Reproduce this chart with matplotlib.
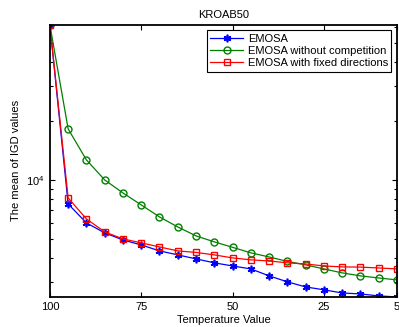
import numpy as np
import matplotlib
matplotlib.use('Agg')
import matplotlib.pyplot as plt
from matplotlib.ticker import NullFormatter, LogLocator, FixedLocator

plt.rcParams['font.family'] = ['Liberation Sans', 'DejaVu Sans']

# temperature values (x axis, reversed)
temp = [100, 95, 90, 85, 80, 75, 70, 65, 60, 55, 50, 45, 40, 35, 30, 25, 20, 15, 10, 5]

# mean IGD values
emosa = [61800, 7540, 6035, 5370, 4940, 4660, 4345, 4145, 3955, 3775,
         3640, 3515, 3240, 3020, 2845, 2750, 2650, 2620, 2560, 2530]
no_comp = [61800, 18200, 12650, 10000, 8580, 7455, 6475, 5755, 5180, 4830,
           4530, 4245, 4045, 3840, 3685, 3515, 3355, 3240, 3160, 3090]
fixed_dir = [61800, 8090, 6325, 5430, 5000, 4775, 4550, 4345, 4265, 4145,
             4000, 3910, 3860, 3775, 3725, 3640, 3600, 3590, 3555, 3515]

xticks = [100, 75, 50, 25, 5]
fs = 8

fig = plt.figure(figsize=(3.99, 3.27), dpi=100)
ax = fig.add_axes([0.125, 0.092, 0.87, 0.832])

ax.plot(temp, emosa, color='b', marker=(6, 2, 0), markersize=5.5,
        markeredgewidth=1.2, linewidth=0.9, label='EMOSA')
ax.plot(temp, no_comp, color='g', marker='o', markersize=5, linewidth=0.9,
        markerfacecolor='none', label='EMOSA without competition')
ax.plot(temp, fixed_dir, color='r', marker='s', markersize=4.5, linewidth=0.9,
        markerfacecolor='none', label='EMOSA with fixed directions')

ax.set_yscale('log')
ax.set_xlim(100, 5)
ax.set_ylim(min(emosa), max(emosa))
ax.set_xticks(xticks)
ax.set_xticklabels([str(t) for t in xticks])
ax.yaxis.set_major_locator(FixedLocator([1e4]))
ax.yaxis.set_minor_locator(LogLocator(base=10, subs=np.arange(2, 10)))
ax.yaxis.set_minor_formatter(NullFormatter())

ax.tick_params(which='both', direction='in', top=True, right=True,
               labelsize=fs, width=0.8)
ax.tick_params(which='major', length=3.5)
ax.tick_params(which='minor', length=2)
for s in ax.spines.values():
    s.set_linewidth(1.3)

ax.set_title('KROAB50', fontsize=fs, pad=5)
ax.set_xlabel('Temperature Value', fontsize=fs, labelpad=2)
ax.set_ylabel('The mean of IGD values', fontsize=fs, labelpad=4)

leg = ax.legend(loc='upper right', fontsize=fs, fancybox=False,
                edgecolor='k', framealpha=1, borderpad=0.3,
                labelspacing=0.2, handlelength=3.0, handletextpad=0.4,
                borderaxespad=0.5)
leg.get_frame().set_linewidth(0.8)

plt.savefig('out.png', dpi=100)
plt.close()
